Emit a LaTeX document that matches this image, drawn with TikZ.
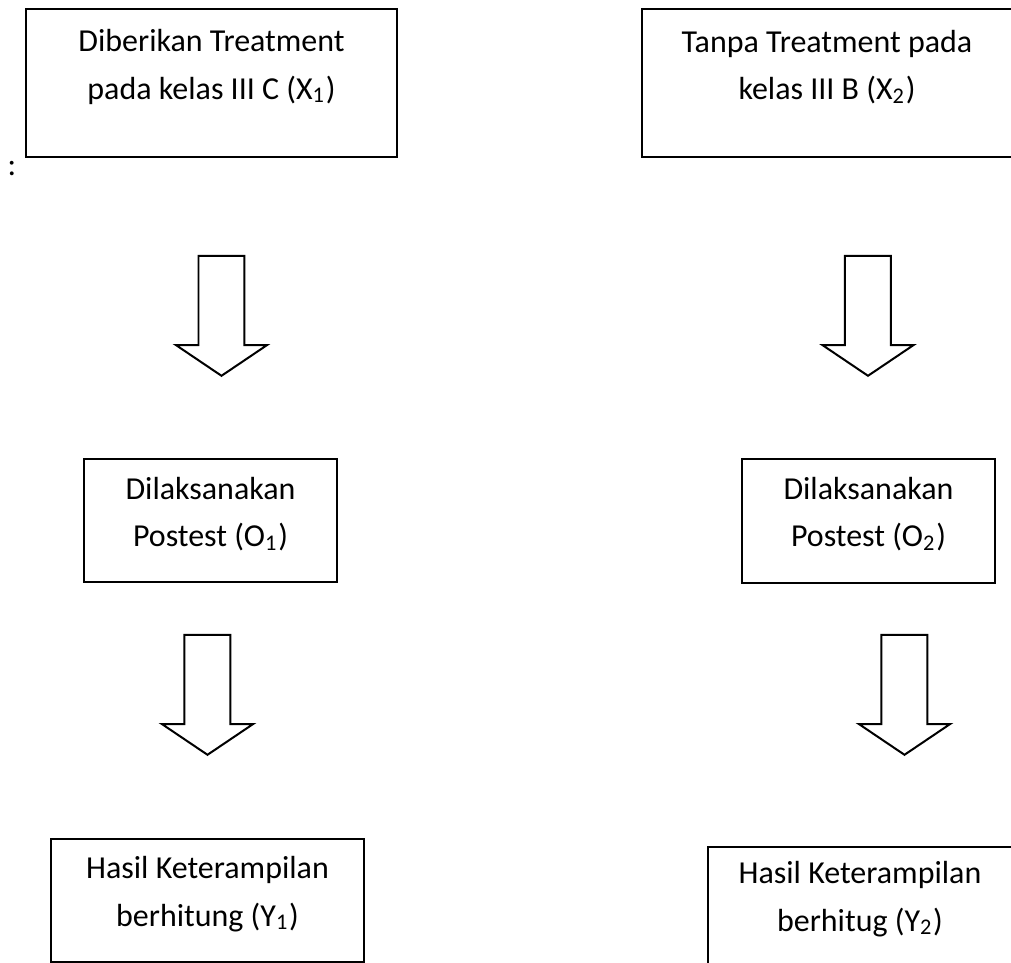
\documentclass[tikz,border=0pt]{standalone}
\usepackage{fontspec}
\setmainfont{Carlito}
\usetikzlibrary{shapes.arrows}

\begin{document}
\begin{tikzpicture}
    [
        x=0.1mm, y=-0.1mm,
        square/.style = {draw, shape=rectangle, line width=0.2mm, inner sep=0pt},
        txt/.style = {align=center, font=\fontsize{9.1}{13.5}\selectfont, inner sep=0pt},
        blockarrow/.style = {draw, single arrow, rotate=-90, anchor=tip, minimum height=12mm, inner xsep=0pt, inner ysep=2.2mm, single arrow head extend=2.25mm, single arrow tip angle=112, line width=0.2mm},
    ]

    \useasboundingbox (0,0) rectangle (1011,963);
    \clip (0,0) rectangle (1011,963);

    % kelas III C
    \node[square, minimum width=37.1mm, minimum height=14.8mm] (x1) at (211.5,83) {};
    \node[txt] (x1t) at (211.5,67) {Diberikan Treatment\\pada kelas III C (X\textsubscript{1})};
    \node[txt] (colon) at (12,169) {:};
    \node[blockarrow] (a1) at (221.5,377) {};
    \node[square, minimum width=25.3mm, minimum height=12.3mm] (o1) at (210.5,520.5) {};
    \node[txt] (o1t) at (210.5,514) {Dilaksanakan\\Postest (O\textsubscript{1})};
    \node[blockarrow] (a3) at (207.5,756) {};
    \node[square, minimum width=31.3mm, minimum height=12.3mm] (y1) at (207.5,900.5) {};
    \node[txt] (y1t) at (207.5,894) {Hasil Keterampilan\\berhitung (Y\textsubscript{1})};

    % kelas III B
    \node[square, minimum width=37.1mm, minimum height=14.8mm] (x2) at (827.5,83) {};
    \node[txt] (x2t) at (827,67) {Tanpa Treatment pada\\kelas III B (X\textsubscript{2})};
    \node[blockarrow] (a2) at (868,377) {};
    \node[square, minimum width=25.3mm, minimum height=12.4mm] (o2) at (868.5,521) {};
    \node[txt] (o2t) at (868.5,514) {Dilaksanakan\\Postest (O\textsubscript{2})};
    \node[blockarrow] (a4) at (904.5,756) {};
    \node[square, minimum width=30.5mm, minimum height=12.4mm] (y2) at (860.5,909) {};
    \node[txt] (y2t) at (860,899) {Hasil Keterampilan\\berhitug (Y\textsubscript{2})};

\end{tikzpicture}
\end{document}
